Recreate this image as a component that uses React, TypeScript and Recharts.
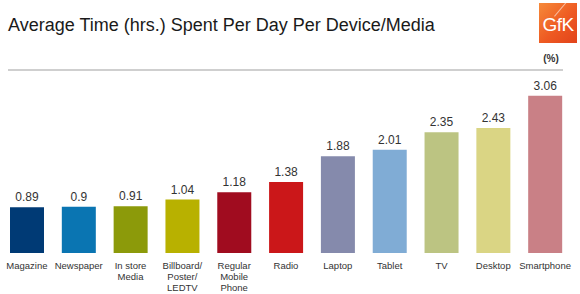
import { BarChart, Bar, XAxis, YAxis, Cell, LabelList } from "recharts";

const categories = [
  "Magazine",
  "Newspaper",
  "In store\nMedia",
  "Billboard/\nPoster/\nLEDTV",
  "Regular\nMobile\nPhone",
  "Radio",
  "Laptop",
  "Tablet",
  "TV",
  "Desktop",
  "Smartphone",
];

const hours = [0.89, 0.9, 0.91, 1.04, 1.18, 1.38, 1.88, 2.01, 2.35, 2.43, 3.06];

const barColors = [
  "#003a75",
  "#0a75b2",
  "#8c9a0a",
  "#b8b100",
  "#a00c1f",
  "#cb1719",
  "#858aac",
  "#80acd5",
  "#bcc482",
  "#dad584",
  "#c98086",
];

const data = categories.map((name, i) => ({ name, value: hours[i] }));

const FONT = "'Liberation Sans', Arial, sans-serif";

function CategoryTick({ x, y, payload }: any) {
  const lines = String(payload.value).split("\n");
  return (
    <text x={x} y={y} textAnchor="middle" fontFamily={FONT} fontSize={9.5} fill="#333">
      {lines.map((line, i) => (
        <tspan key={i} x={x} dy={i === 0 ? 16 : 11}>
          {line}
        </tspan>
      ))}
    </text>
  );
}

export default function App() {
  return (
    <div style={{ position: "relative", width: 580, height: 294, fontFamily: FONT, background: "#fff" }}>
      <style>{`body{margin:0}`}</style>
      <div
        style={{
          position: "absolute",
          left: 8,
          top: 15,
          fontSize: 18,
          color: "#1a1a1a",
          whiteSpace: "nowrap",
        }}
      >
        Average Time (hrs.) Spent Per Day Per Device/Media
      </div>
      {/* brand badge, top right */}
      <div
        style={{
          position: "absolute",
          left: 539,
          top: 3,
          width: 38,
          height: 40,
          overflow: "hidden",
          background: "linear-gradient(135deg, #f68a3a 0%, #ee5a22 55%, #e2431b 100%)",
          color: "#fff",
          fontSize: 19,
          lineHeight: "44px",
          textAlign: "center",
          letterSpacing: -0.5,
        }}
      >
        <div
          style={{
            position: "absolute",
            left: 22,
            top: -6,
            width: 1,
            height: 22,
            background: "rgba(255,255,255,0.55)",
            transform: "rotate(40deg)",
          }}
        />
        GfK
      </div>
      <div
        style={{
          position: "absolute",
          left: 540,
          top: 53,
          width: 22,
          textAlign: "center",
          fontSize: 10,
          fontWeight: "bold",
          color: "#333",
        }}
      >
        (%)
      </div>
      <div
        style={{
          position: "absolute",
          left: 8,
          top: 69,
          width: 555,
          height: 2,
          background: "#cfcfcf",
        }}
      />
      <div style={{ position: "absolute", left: 0, top: 0 }}>
        <BarChart
          width={580}
          height={294}
          data={data}
          margin={{ top: 73, right: 9, left: 1, bottom: 0 }}
        >
          <XAxis
            dataKey="name"
            axisLine={false}
            tickLine={false}
            tickSize={0}
            tickMargin={0}
            height={41}
            interval={0}
            tick={<CategoryTick />}
          />
          <YAxis hide domain={[0, 3.5]} />
          <Bar dataKey="value" barSize={34} isAnimationActive={false}>
            {data.map((d, i) => (
              <Cell key={d.name} fill={barColors[i]} />
            ))}
            <LabelList
              dataKey="value"
              position="top"
              offset={6}
              fontFamily={FONT}
              fontSize={12}
              fill="#333"
            />
          </Bar>
        </BarChart>
      </div>
    </div>
  );
}
